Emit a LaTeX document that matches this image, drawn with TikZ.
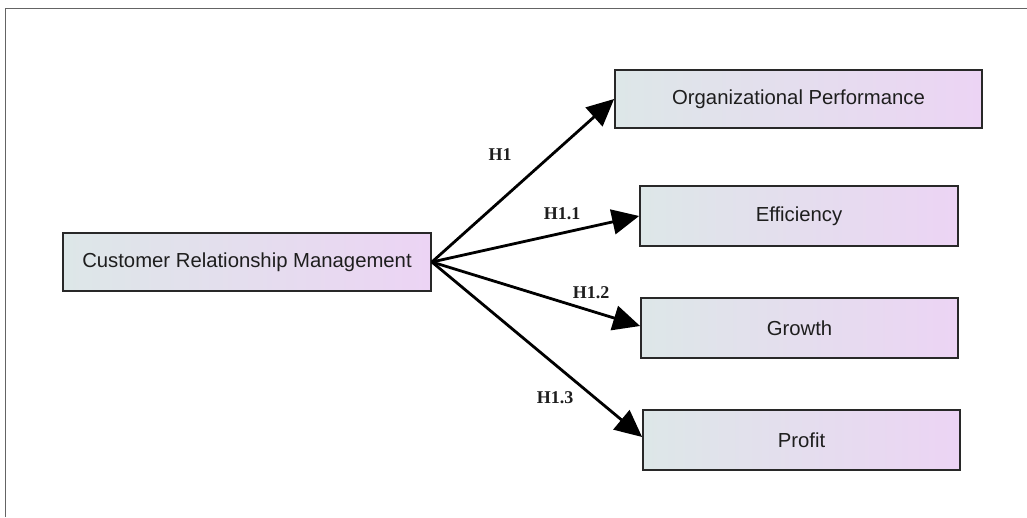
\documentclass[tikz,border=0pt]{standalone}
\usepackage{fontspec}
\setmainfont{Liberation Sans}
\newfontfamily\hypfont{Liberation Serif}
\usepackage{tikz}
\usetikzlibrary{arrows.meta,positioning}
\definecolor{boxleft}{RGB}{221,231,232}
\definecolor{boxright}{RGB}{236,212,244}
\definecolor{boxline}{RGB}{40,40,40}
\definecolor{framegray}{RGB}{100,100,100}
\definecolor{txtdark}{RGB}{30,30,30}

\begin{document}
\begin{tikzpicture}[x=1pt, y=-1pt,
  varbox/.style={draw=boxline, line width=1.8pt, left color=boxleft, right color=boxright,
    minimum height=58pt, inner sep=0pt, text=txtdark, font=\fontsize{20.3}{24}\selectfont},
  hyp/.style={text=txtdark, font=\hypfont\bfseries\fontsize{18}{21}\selectfont, inner sep=1pt},
  link/.style={-{Triangle[length=27pt,width=25pt]}, line width=2.8pt, black}]
  \useasboundingbox (0,0) rectangle (1027,517);
  % outer frame, top and left only
  \draw[framegray, line width=1.5pt] (5.5,517) -- (5.5,8.5) -- (1027,8.5);

  \node[varbox, minimum width=368pt] (crm) at (247,262) {Customer Relationship Management};
  \node[varbox, minimum width=367pt] (op) at (798.5,99) {Organizational Performance};
  \node[varbox, minimum width=318pt, minimum height=60pt] (eff) at (799,216) {Efficiency};
  \node[varbox, minimum width=317pt, minimum height=60pt] (grw) at (799.5,328) {Growth};
  \node[varbox, minimum width=317pt, minimum height=60pt] (prf) at (801.5,440) {Profit};

  \draw[link] (crm.east) -- (op.west);
  \draw[link] (crm.east) -- (eff.west);
  \draw[link] (crm.east) -- ([yshift=2pt]grw.west);
  \draw[link] (crm.east) -- ([yshift=3pt]prf.west);

  \node[hyp] (h1) at (500,155) {H1};
  \node[hyp] (h11) at (562,214) {H1.1};
  \node[hyp] (h12) at (591,293) {H1.2};
  \node[hyp] (h13) at (555,398) {H1.3};
\end{tikzpicture}
\end{document}
